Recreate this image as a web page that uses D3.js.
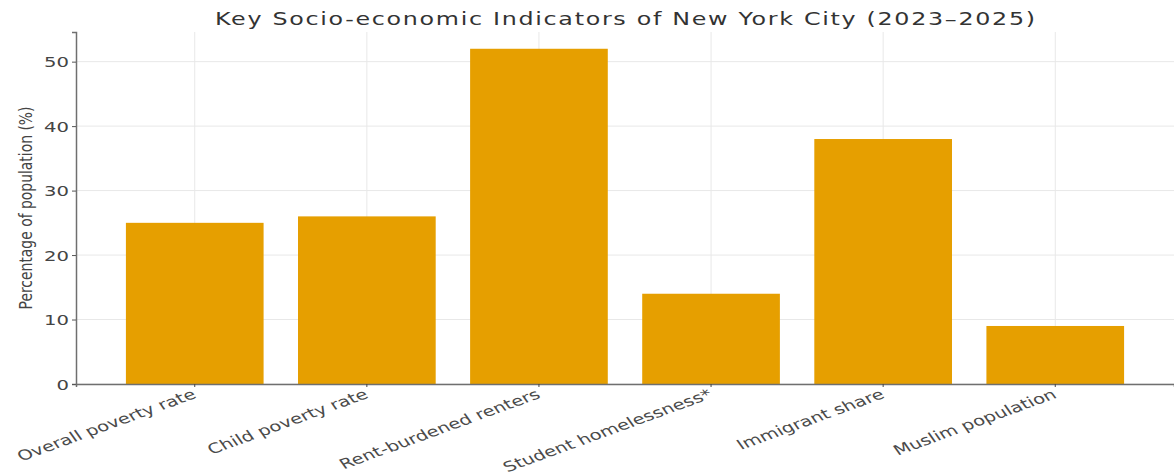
<!DOCTYPE html>
<html>
<head>
<meta charset="utf-8">
<script src="https://cdn.jsdelivr.net/npm/d3@7"></script>
<style>
body{margin:0;background:#fff;}
text{font-family:"DejaVu Sans",sans-serif;}
</style>
</head>
<body>
<div id="plot"></div>
<script>

var categories = ['Overall poverty rate','Child poverty rate','Rent-burdened renters','Student homelessness*','Immigrant share','Muslim population'];
var values = [25,26,52,14,38,9];
var yTicks = [0,10,20,30,40,50];

var W = 1174, H = 475;
var margin = {t:32,r:0,b:91,l:76};
// the picture is stretched wide, text gets the same squeeze
var sx = 1.4;

var svg = d3.select('#plot')
	.append('svg')
	.attr('width',W)
	.attr('height',H);

var scaleX = d3.scaleBand().domain(categories)
	.range([margin.l, W-margin.r])
	.paddingInner(.2)
	.paddingOuter(.29);

var scaleY = d3.scaleLinear().domain([0,54.6])
	.range([H-margin.b, margin.t]);

var y0 = scaleY(0);

// grid
svg.append('g').selectAll('line')
	.data(yTicks)
	.enter()
	.append('line')
	.attr('x1',margin.l).attr('x2',W)
	.attr('y1',function(d){return scaleY(d)})
	.attr('y2',function(d){return scaleY(d)})
	.attr('stroke','#e8e8e8');

svg.append('g').selectAll('line')
	.data(categories)
	.enter()
	.append('line')
	.attr('x1',function(d){return scaleX(d)+scaleX.bandwidth()/2})
	.attr('x2',function(d){return scaleX(d)+scaleX.bandwidth()/2})
	.attr('y1',margin.t).attr('y2',y0)
	.attr('stroke','#e8e8e8');

// bars
svg.append('g').selectAll('rect')
	.data(values)
	.enter()
	.append('rect')
	.attr('x',function(d,i){return scaleX(categories[i])})
	.attr('width',scaleX.bandwidth())
	.attr('y',function(d){return scaleY(d)})
	.attr('height',function(d){return y0-scaleY(d)})
	.attr('fill','#E69F00');

// axes
var yAxis = svg.append('g')
	.attr('transform','translate('+margin.l+',0)')
	.call(d3.axisLeft(scaleY).tickValues(yTicks).tickSize(4).tickPadding(7));

var xAxis = svg.append('g')
	.attr('transform','translate(0,'+y0+')')
	.call(d3.axisBottom(scaleX).tickSize(3).tickFormat(''));

yAxis.select('.domain').attr('stroke','#6f6f6f').attr('stroke-width',1.5);
xAxis.select('.domain').attr('stroke','#6f6f6f').attr('stroke-width',1.5);
yAxis.selectAll('.tick line').attr('stroke','#555');
xAxis.selectAll('.tick line').attr('stroke','#444');

yAxis.selectAll('.tick text').remove();
yAxis.selectAll('.tick')
	.append('text')
	.attr('transform','translate(-7,0) scale('+sx+',1)')
	.attr('text-anchor','end')
	.attr('dy','0.36em')
	.attr('fill','#444')
	.style('font-size','14px')
	.text(function(d){return d});

// x labels, rotated
svg.append('g').selectAll('text')
	.data(categories)
	.enter()
	.append('text')
	.attr('transform',function(d){
		var x = scaleX(d)+scaleX.bandwidth()/2-4;
		return 'translate('+x+','+(y0+4)+') scale('+sx+',1) rotate(-27)';
	})
	.attr('text-anchor','end')
	.attr('dy','0.75em')
	.attr('fill','#4a4a4a')
	.style('font-size','14px')
	.text(function(d){return d});

// y label
svg.append('text')
	.attr('transform','translate(32,208) scale('+sx+',1) rotate(-90)')
	.attr('text-anchor','middle')
	.attr('fill','#444')
	.attr('textLength',203)
	.attr('lengthAdjust','spacingAndGlyphs')
	.style('font-size','12px')
	.text('Percentage of population (%)');

// title
svg.append('text')
	.attr('transform','translate('+((margin.l+W)/2)+',25) scale('+sx+',1)')
	.attr('text-anchor','middle')
	.attr('fill','#333')
	.attr('textLength',820/sx)
	.attr('lengthAdjust','spacing')
	.style('font-size','17px')
	.text('Key Socio-economic Indicators of New York City (2023–2025)');

</script>
</body>
</html>
